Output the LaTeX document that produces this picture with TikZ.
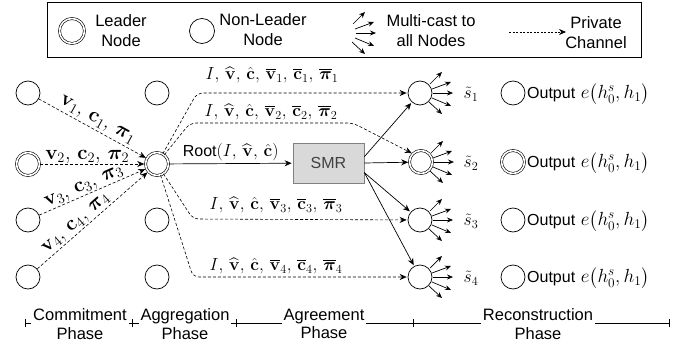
\RequirePackage{fix-cm}
\documentclass[tikz,border=0pt]{standalone}
\usepackage{amsmath,bm}
\usepackage[no-math]{fontspec}
\newfontfamily\arialf{Liberation Sans}
\usetikzlibrary{arrows.meta}
\begin{document}
\begin{tikzpicture}[x=1pt,y=-1pt,
  nd/.style={circle,draw,minimum size=24pt,inner sep=0pt,line width=0.7pt},
  ld/.style={circle,draw,double,double distance=1.6pt,line width=0.6pt,minimum size=23pt,inner sep=0pt},
  pc/.style={dash pattern=on 3pt off 2pt,line width=0.6pt,shorten >=1pt,-{Stealth[length=7pt,width=6pt]}},
  sa/.style={line width=0.7pt,shorten >=1pt,-{Stealth[length=7pt,width=6pt]}},
  mc/.style={line width=0.7pt,-{Stealth[length=6pt,width=5pt]}},
  sf/.style={font=\arialf\fontsize{16.5}{20}\selectfont,inner sep=0pt},
  ph/.style={font=\arialf\fontsize{16.5}{18.5}\selectfont,align=center,fill=white,inner sep=2pt},
  ml/.style={font=\fontsize{20.5}{24}\selectfont,inner sep=1pt},
  mlb/.style={font=\fontsize{17.5}{21}\selectfont,inner sep=1pt},
  mlo/.style={font=\fontsize{19}{22}\selectfont,inner sep=1pt},
  mcast/.pic={
    \draw[mc] (10,-9) -- (22,-21);
    \draw[mc] (12,-4) -- (31,-11);
    \draw[mc] (13,0) -- (33,0);
    \draw[mc] (12,5) -- (31,13);
    \draw[mc] (9,9) -- (22,21);
  }
]
\useasboundingbox (0,0) rectangle (694,345);
% legend
\node[draw,line width=0.8pt,minimum width=594pt,minimum height=55pt,inner sep=0pt] (lbox) at (344,30) {};
\node[ld,minimum size=25pt] (lgL) at (72,31) {};
\node[sf,align=center] (lgLt) at (121,31) {Leader\\Node};
\node[nd,minimum size=25pt] (lgN) at (202,31) {};
\node[sf,align=center] (lgNt) at (263,30) {Non-Leader\\Node};
\pic at (343,33) {mcast};
\node[sf,align=center] (lgMt) at (431,31) {Multi-cast to\\all Nodes};
\coordinate (lgPa) at (509,32);
\coordinate (lgPb) at (567,32);
\draw[pc,dash pattern=on 2pt off 1.5pt] (lgPa) -- (lgPb);
\node[sf,align=center] (lgPt) at (596,33) {Private\\Channel};

% column 1
\node[nd] (a1) at (28,93) {};
\node[ld] (a2) at (28,164) {};
\node[nd] (a3) at (28,220) {};
\node[nd] (a4) at (28,277) {};
% column 2
\node[nd] (b1) at (157,93) {};
\node[ld] (b2) at (157,164) {};
\node[nd] (b3) at (157,220) {};
\node[nd] (b4) at (157,277) {};
% SMR
\node[draw=gray,fill=gray!30,line width=0.7pt,minimum width=71pt,minimum height=40pt,inner sep=0pt,
      font=\arialf\fontsize{16}{18}\selectfont,text=black!75] (smr) at (328.5,163) {SMR};
% column 3
\node[nd] (d1) at (420,93) {};
\node[ld] (d2) at (421,162) {};
\node[nd] (d3) at (420,220) {};
\node[nd] (d4) at (420,277) {};
\pic at (d1) {mcast};
\pic at (d2) {mcast};
\pic at (d3) {mcast};
\pic at (d4) {mcast};
\node[mlb] (s1) at (471,94) {$\tilde{s}_1$};
\node[mlb] (s2) at (471,163) {$\tilde{s}_2$};
\node[mlb] (s3) at (471,221) {$\tilde{s}_3$};
\node[mlb] (s4) at (471,278) {$\tilde{s}_4$};
% outputs
\node[nd] (o1) at (513,93) {};
\node[ld] (o2) at (513,162) {};
\node[nd] (o3) at (513,220) {};
\node[nd] (o4) at (513,277) {};
\node[mlo,anchor=west] (ot1) at (526,94) {{\arialf\fontsize{16}{18}\selectfont Output} $e\bigl(h_0^s, h_1\bigr)$};
\node[mlo,anchor=west] (ot2) at (526,163) {{\arialf\fontsize{16}{18}\selectfont Output} $e\bigl(h_0^s, h_1\bigr)$};
\node[mlo,anchor=west] (ot3) at (526,221) {{\arialf\fontsize{16}{18}\selectfont Output} $e\bigl(h_0^s, h_1\bigr)$};
\node[mlo,anchor=west] (ot4) at (526,278) {{\arialf\fontsize{16}{18}\selectfont Output} $e\bigl(h_0^s, h_1\bigr)$};

% commitment arrows
\draw[pc] (a1) -- node[ml,sloped,above,pos=0.5,inner sep=2pt] {$\mathbf{v}_1,\, \mathbf{c}_1,\, \bm{\pi}_1$} (b2);
\draw[pc] (a2) -- node[ml,above,pos=0.45,inner sep=0pt] {$\mathbf{v}_2,\, \mathbf{c}_2,\, \bm{\pi}_2$} (b2);
\draw[pc] (a3) -- node[ml,sloped,above,pos=0.45,inner sep=1pt] {$\mathbf{v}_3,\, \mathbf{c}_3,\, \bm{\pi}_3$} (b2);
\draw[pc] (a4) -- node[ml,sloped,above,pos=0.4,inner sep=1pt] {$\mathbf{v}_4,\, \mathbf{c}_4,\, \bm{\pi}_4$} (b2);

% private channels
\draw[pc,rounded corners=6pt] (b2) -- (197,93) -- (d1);
\draw[pc,rounded corners=6pt] (b2) -- (190,123) -- (353,123) -- (d2.north west);
\draw[pc,rounded corners=6pt] (b2) -- (193,219) -- (d3);
\draw[pc,rounded corners=6pt] (b2) -- (193,277) -- (d4);
\node[mlb] (l1) at (272,75) {$I,\, \widehat{\mathbf{v}},\, \hat{\mathbf{c}},\, \overline{\mathbf{v}}_1,\, \overline{\mathbf{c}}_1,\, \overline{\bm{\pi}}_1$};
\node[mlb] (l2) at (271,112) {$I,\, \widehat{\mathbf{v}},\, \hat{\mathbf{c}},\, \overline{\mathbf{v}}_2,\, \overline{\mathbf{c}}_2,\, \overline{\bm{\pi}}_2$};
\node[mlb] (l3) at (276,205) {$I,\, \widehat{\mathbf{v}},\, \hat{\mathbf{c}},\, \overline{\mathbf{v}}_3,\, \overline{\mathbf{c}}_3,\, \overline{\bm{\pi}}_3$};
\node[mlb] (l4) at (276,266) {$I,\, \widehat{\mathbf{v}},\, \hat{\mathbf{c}},\, \overline{\mathbf{v}}_4,\, \overline{\mathbf{c}}_4,\, \overline{\bm{\pi}}_4$};

% agreement
\draw[sa] (b2) -- node[mlb,above,pos=0.5,inner sep=2pt] {{\arialf\fontsize{16}{18}\selectfont Root}$(I,\, \widehat{\mathbf{v}},\, \hat{\mathbf{c}})$} (smr);
\draw[sa] (smr.10) -- (d1);
\draw[sa] (smr.east) -- (d2);
\draw[sa] (smr.-15) -- (d3);
\draw[sa] (smr.-15) -- (d4);

% phase line
\draw[line width=0.6pt] (25,323) -- (669,323);
\foreach \t/\n in {25/t1,132/t2,236/t3,413/t4,669/t5}{
  \coordinate (\n a) at (\t,319);
  \coordinate (\n b) at (\t,327);
  \draw[line width=0.6pt] (\n a) -- (\n b);
}
\node[ph] (p1) at (80,324) {Commitment\\Phase};
\node[ph] (p2) at (185,324) {Aggregation\\Phase};
\node[ph] (p3) at (324,324) {Agreement\\Phase};
\node[ph] (p4) at (538,324) {Reconstruction\\Phase};
\end{tikzpicture}
\end{document}
